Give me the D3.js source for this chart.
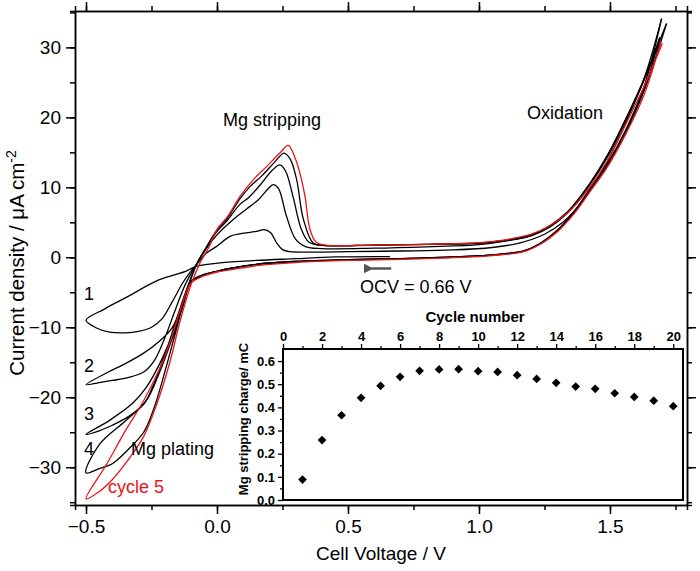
<!DOCTYPE html>
<html>
<head>
<meta charset="utf-8">
<script src="https://d3js.org/d3.v7.min.js"></script>
<style>
  body { margin:0; background:#fff; }
  svg { font-family:"Liberation Sans", Arial, sans-serif; }
  .axis path, .axis line { stroke:#000; stroke-width:1.5px; }
  .axis text { font-size:19px; fill:#000; }
  .inset .axis path, .inset .axis line { stroke-width:1.3px; }
  .inset .axis text { font-size:13px; font-weight:bold; }
  .note { font-size:18px; fill:#000; }
</style>
</head>
<body>
<svg id="chart" width="700" height="571"></svg>
<script>
// CV cycles, [cell voltage V, current density uA/cm2] in sweep order
var cycle1 = [[0.66,0.1],[0.45,0.05],[0.3,-0.2],[0.15,-0.45],[0.01,-0.8],[-0.08,-1.3],[-0.12,-2.0],[-0.22,-3.2],[-0.35,-5.8],[-0.43,-7.4],[-0.5,-9.0],
  [-0.46,-10.1],[-0.41,-10.7],[-0.35,-10.8],[-0.30,-10.6],[-0.25,-10.0],[-0.21,-8.8],[-0.17,-6.3],[-0.13,-3.6],[-0.10,-2.0],[-0.078,-1.0],
  [-0.04,0.6],[0.0,1.6],[0.05,3.0],[0.11,3.5],[0.15,3.7],[0.18,3.95],[0.205,3.5],[0.227,2.1],[0.25,1.1],[0.28,0.8],[0.35,0.75],[0.5,0.8],[0.7,0.9],[0.9,1.05],[1.05,1.4],[1.15,2.0],[1.25,3.3],[1.32,5.0],[1.4,8.2],[1.48,13.0],[1.56,19.2],[1.63,25.5],[1.697,34.1]];
var cycle2 = [[1.697,34.1],[1.63,24.4],[1.56,18.2],[1.49,13.4],[1.42,9.6],[1.36,6.4],[1.30,3.9],[1.23,1.9],[1.17,0.9],[1.05,0.3],[0.9,0.0],[0.7,-0.2],[0.5,-0.35],[0.3,-0.6],[0.15,-1.0],[0.05,-1.6],[0.0,-2.0],[-0.06,-2.6],[-0.10,-3.5],
  [-0.13,-6.5],[-0.17,-10.0],[-0.22,-12.0],[-0.28,-13.7],[-0.35,-15.2],[-0.42,-16.5],[-0.5,-18.2],
  [-0.45,-17.9],[-0.40,-17.6],[-0.34,-17.2],[-0.28,-16.4],[-0.24,-14.8],[-0.20,-11.6],[-0.16,-7.6],[-0.12,-3.8],[-0.078,-1.0],
  [-0.04,1.3],[0.0,3.2],[0.062,5.4],[0.113,6.9],[0.16,8.3],[0.195,9.8],[0.215,10.4],[0.235,9.8],[0.265,5.9],[0.30,2.6],[0.34,1.5],[0.4,1.25],[0.6,1.3],[0.8,1.5],[1.0,1.8],[1.1,2.3],[1.2,3.1],[1.27,4.3],[1.34,6.4],[1.42,10.2],[1.49,14.3],[1.55,18.8],[1.62,24.6],[1.716,33.4]];
var cycle3 = [[1.716,33.4],[1.64,24.8],[1.57,18.6],[1.50,13.8],[1.43,9.9],[1.37,6.7],[1.31,4.1],[1.24,2.0],[1.17,0.9],[1.05,0.35],[0.9,0.05],[0.7,-0.2],[0.5,-0.35],[0.3,-0.6],[0.15,-1.0],[0.05,-1.6],[0.0,-2.0],[-0.06,-2.6],[-0.10,-3.5],
  [-0.13,-6.8],[-0.17,-11.0],[-0.22,-15.3],[-0.27,-18.6],[-0.32,-20.8],[-0.41,-23.3],[-0.5,-25.3],
  [-0.45,-24.8],[-0.40,-24.0],[-0.34,-22.8],[-0.28,-21.0],[-0.24,-18.0],[-0.20,-14.0],[-0.16,-9.5],[-0.12,-5.0],[-0.078,-1.0],
  [-0.04,1.4],[0.0,3.7],[0.04,5.3],[0.088,7.6],[0.12,8.5],[0.164,10.3],[0.21,12.4],[0.24,13.2],[0.262,12.3],[0.29,8.7],[0.322,4.0],[0.35,2.2],[0.40,1.7],[0.6,1.75],[0.8,1.85],[1.0,2.0],[1.1,2.4],[1.2,3.1],[1.27,4.4],[1.34,6.5],[1.42,10.3],[1.49,14.4],[1.55,18.9],[1.62,24.4],[1.69,31.4]];
var cycle4 = [[1.69,31.4],[1.63,23.9],[1.56,18.0],[1.49,13.2],[1.42,9.4],[1.36,6.3],[1.30,3.9],[1.23,1.9],[1.17,0.9],[1.05,0.35],[0.9,0.05],[0.7,-0.2],[0.5,-0.35],[0.3,-0.6],[0.15,-1.0],[0.05,-1.6],[0.0,-2.0],[-0.06,-2.7],[-0.10,-3.6],
  [-0.13,-7.0],[-0.17,-11.5],[-0.22,-16.5],[-0.27,-20.5],[-0.35,-23.4],[-0.45,-26.8],[-0.5,-30.8],
  [-0.45,-30.2],[-0.40,-29.5],[-0.34,-27.5],[-0.28,-25.0],[-0.24,-21.5],[-0.20,-16.5],[-0.16,-11.0],[-0.12,-5.5],[-0.078,-1.0],
  [-0.04,1.5],[0.0,3.9],[0.04,5.6],[0.088,8.4],[0.126,10.1],[0.17,11.6],[0.22,13.6],[0.256,14.9],[0.28,14.0],[0.304,11.1],[0.33,5.4],[0.368,2.0],[0.41,1.7],[0.6,1.75],[0.8,1.85],[1.0,2.05],[1.1,2.4],[1.2,3.2],[1.27,4.5],[1.34,6.6],[1.42,10.4],[1.49,14.6],[1.55,19.0],[1.62,24.6],[1.695,30.9]];
var cycle5 = [[1.695,30.9],[1.63,23.2],[1.56,17.6],[1.49,12.9],[1.42,9.2],[1.36,6.1],[1.30,3.7],[1.23,1.8],[1.17,0.8],[1.05,0.25],[0.9,-0.05],[0.7,-0.3],[0.5,-0.45],[0.3,-0.75],[0.15,-1.2],[0.05,-1.8],[0.0,-2.1],[-0.06,-2.8],[-0.10,-3.7],
  [-0.14,-7.5],[-0.18,-12.2],[-0.22,-16.0],[-0.28,-20.5],[-0.35,-24.8],[-0.42,-29.5],[-0.5,-34.5],
  [-0.45,-33.5],[-0.40,-31.8],[-0.34,-29.0],[-0.28,-25.6],[-0.23,-21.0],[-0.18,-15.0],[-0.14,-9.0],[-0.10,-4.0],[-0.065,-0.8],
  [-0.03,1.5],[0.0,4.0],[0.04,5.8],[0.088,8.7],[0.139,11.1],[0.19,13.0],[0.24,14.9],[0.272,16.0],[0.30,14.0],[0.32,11.5],[0.336,8.7],[0.355,4.0],[0.38,2.1],[0.43,1.7],[0.6,1.75],[0.8,1.85],[1.0,2.1],[1.1,2.5],[1.2,3.3],[1.27,4.5],[1.34,6.4],[1.42,9.9],[1.49,13.8],[1.56,19.0],[1.63,24.4],[1.70,30.6]];

var cycles = [cycle1, cycle2, cycle3, cycle4, cycle5];
var cycleColors = ["#000", "#000", "#000", "#000", "#e8141c"];

// inset: stripping charge per cycle
var cycleNumber = [1,2,3,4,5,6,7,8,9,10,11,12,13,14,15,16,17,18,19,20];
var stripCharge = [0.088,0.259,0.366,0.441,0.493,0.532,0.558,0.564,0.565,0.556,0.553,0.539,0.523,0.506,0.490,0.480,0.461,0.445,0.429,0.405];

var xTicks = [-0.5, 0.0, 0.5, 1.0, 1.5];
var yTicks = [-30, -20, -10, 0, 10, 20, 30];
var insetXTicks = [0,2,4,6,8,10,12,14,16,18,20];
var insetYTicks = [0.0,0.1,0.2,0.3,0.4,0.5,0.6];

var svg = d3.select("#chart");

var x = d3.scaleLinear().domain([-0.542, 1.794]).range([75, 687]);
var y = d3.scaleLinear().domain([-35.4, 35.2]).range([505, 11]);

//minor ticks first (no labels)
var xMinor = d3.range(-0.5, 1.8, 0.25);
var yMinor = d3.range(-35, 36, 5);

svg.append("g").attr("class","axis").attr("transform","translate(0,505)")
  .call(d3.axisBottom(x).tickValues(xMinor).tickSize(5).tickFormat(""));
svg.append("g").attr("class","axis").attr("transform","translate(0,11)")
  .call(d3.axisTop(x).tickValues(xMinor).tickSize(5).tickFormat(""));
svg.append("g").attr("class","axis").attr("transform","translate(75,0)")
  .call(d3.axisLeft(y).tickValues(yMinor).tickSize(5).tickFormat(""));
svg.append("g").attr("class","axis").attr("transform","translate(687,0)")
  .call(d3.axisRight(y).tickValues(yMinor).tickSize(5).tickFormat(""));

//major ticks
svg.append("g").attr("class","axis").attr("transform","translate(0,505)")
  .call(d3.axisBottom(x).tickValues(xTicks).tickSize(9).tickSizeOuter(0).tickPadding(6).tickFormat(d3.format(".1f")));
svg.append("g").attr("class","axis").attr("transform","translate(0,11)")
  .call(d3.axisTop(x).tickValues(xTicks).tickSize(9).tickSizeOuter(0).tickFormat(""));
svg.append("g").attr("class","axis").attr("transform","translate(75,0)")
  .call(d3.axisLeft(y).tickValues(yTicks).tickSize(9).tickSizeOuter(0).tickPadding(5).tickFormat(d3.format("d")));
svg.append("g").attr("class","axis").attr("transform","translate(687,0)")
  .call(d3.axisRight(y).tickValues(yTicks).tickSize(9).tickSizeOuter(0).tickFormat(""));

svg.selectAll(".axis .domain").attr("stroke-width", 1.5);

//axis titles
svg.append("text").attr("x", 381).attr("y", 560)
  .attr("text-anchor","middle").style("font-size","19px").text("Cell Voltage / V");

var yt = svg.append("text").attr("transform","translate(24,263) rotate(-90)")
  .attr("text-anchor","middle").style("font-size","20.5px");
yt.append("tspan").text("Current density / \u03bcA\u2009cm");
yt.append("tspan").attr("dy",-8).style("font-size","14px").text("-2");

//CV curves
var line = d3.line()
  .x(function(d){ return x(d[0]); })
  .y(function(d){ return y(d[1]); })
  .curve(d3.curveCatmullRom.alpha(0.5));

svg.append("g").selectAll("path")
  .data(cycles)
  .enter().append("path")
  .attr("d", line)
  .attr("fill","none")
  .attr("stroke", function(d,i){ return cycleColors[i]; })
  .attr("stroke-width", 1.3);

//OCV arrow
svg.append("defs").append("marker")
  .attr("id","arrowhead").attr("viewBox","0 0 10 10")
  .attr("refX",2).attr("refY",5).attr("markerWidth",4).attr("markerHeight",4)
  .attr("orient","auto")
  .append("path").attr("d","M10,0 L0,5 L10,10 z").attr("fill","#555");

svg.append("line")
  .attr("x1", x(0.665)).attr("y1", y(-1.6))
  .attr("x2", x(0.59)).attr("y2", y(-1.6))
  .attr("stroke","#555").attr("stroke-width",2.5)
  .attr("marker-end","url(#arrowhead)");

//annotations
function note(tx, ty, txt, color){
  svg.append("text").attr("class","note")
    .attr("x", tx).attr("y", ty)
    .style("fill", color || "#000")
    .text(txt);
}
note(223, 126, "Mg stripping");
note(527, 119, "Oxidation");
note(360, 293, "OCV = 0.66 V");
note(84, 300, "1");
note(84, 372, "2");
note(84, 420, "3");
note(84, 455, "4");
note(131, 455, "Mg plating");
note(108, 493, "cycle 5", "#e8141c");

//inset
var inset = svg.append("g").attr("class","inset");
var ix = d3.scaleLinear().domain([0, 20.5]).range([283, 683]);
var iy = d3.scaleLinear().domain([0, 0.652]).range([500, 349]);

inset.append("rect")
  .attr("x", 283).attr("y", 349).attr("width", 400).attr("height", 151)
  .attr("fill","#fff").attr("stroke","#000").attr("stroke-width",2);

inset.append("g").attr("class","axis").attr("transform","translate(0,349)")
  .call(d3.axisTop(ix).tickValues(d3.range(1,21,2)).tickSize(3).tickFormat(""));
inset.append("g").attr("class","axis").attr("transform","translate(0,349)")
  .call(d3.axisTop(ix).tickValues(insetXTicks).tickSize(5).tickSizeOuter(0).tickPadding(3).tickFormat(d3.format("d")));
inset.append("g").attr("class","axis").attr("transform","translate(283,0)")
  .call(d3.axisLeft(iy).tickValues(d3.range(0.05,0.65,0.1)).tickSize(3).tickFormat(""));
inset.append("g").attr("class","axis").attr("transform","translate(283,0)")
  .call(d3.axisLeft(iy).tickValues(insetYTicks).tickSize(5).tickSizeOuter(0).tickPadding(3).tickFormat(d3.format(".1f")));
inset.selectAll(".domain").remove();

inset.append("text").attr("x", 475).attr("y", 322)
  .attr("text-anchor","middle").style("font-size","15px").style("font-weight","bold")
  .text("Cycle number");
inset.append("text").attr("transform","translate(248,419) rotate(-90)")
  .attr("text-anchor","middle").style("font-size","13px").style("font-weight","bold")
  .text("Mg stripping charge/ mC");

inset.selectAll("path.pt")
  .data(cycleNumber)
  .enter().append("path")
  .attr("class","pt")
  .attr("d", d3.symbol().type(d3.symbolSquare).size(38))
  .attr("transform", function(d,i){ return "translate(" + ix(d) + "," + iy(stripCharge[i]) + ") rotate(45)"; })
  .attr("fill","#000");
</script>
</body>
</html>
